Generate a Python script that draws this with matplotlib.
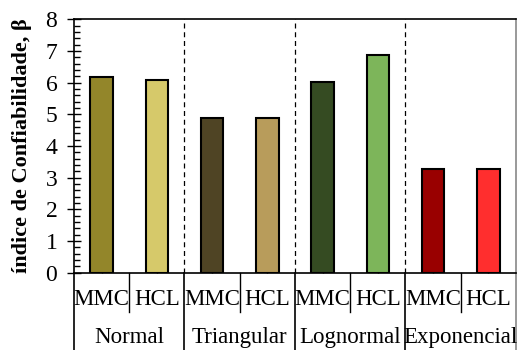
import matplotlib
matplotlib.use("Agg")
import matplotlib.pyplot as plt
import matplotlib.transforms as mtransforms
from matplotlib.ticker import MultipleLocator

plt.rcParams['font.family'] = ['Liberation Serif', 'DejaVu Serif']
plt.rcParams['mathtext.fontset'] = 'stix'

groups = ["Normal", "Triangular", "Lognormal", "Exponencial"]
methods = ["MMC", "HCL"]
mmc_values = [6.19, 4.89, 6.03, 3.27]
hcl_values = [6.07, 4.89, 6.86, 3.28]
mmc_colors = ["#93862a", "#4f4424", "#354b22", "#990000"]
hcl_colors = ["#d6c96a", "#b89c5b", "#7db55a", "#ff2e2e"]

fig = plt.figure(figsize=(5.17, 3.5), dpi=100)
ax = fig.add_axes([0.1431, 0.2209, 0.8549, 0.724])

xs, vals, cols = [], [], []
for i in range(len(groups)):
    xs += [2 * i + 0.5, 2 * i + 1.5]
    vals += [mmc_values[i], hcl_values[i]]
    cols += [mmc_colors[i], hcl_colors[i]]

ax.bar(xs, vals, width=0.41, color=cols, edgecolor='black', linewidth=1.5, zorder=3)

ax.set_xlim(0, 2 * len(groups))
ax.set_ylim(0, 8)
ax.yaxis.set_major_locator(MultipleLocator(1))
ax.yaxis.set_minor_locator(MultipleLocator(0.2))
ax.tick_params(axis='y', which='major', direction='inout', length=10, width=1, labelsize=17, pad=7)
ax.tick_params(axis='y', which='minor', direction='in', length=4, width=1)
ax.set_xticks(xs)
ax.set_xticklabels([])
ax.tick_params(axis='x', which='major', direction='in', length=3, width=1)

for s in ['left', 'bottom', 'top']:
    ax.spines[s].set_color('black')
    ax.spines[s].set_linewidth(1.2)
ax.spines['right'].set_color('#888888')
ax.spines['right'].set_linewidth(1.2)

for b in range(1, len(groups)):
    ax.axvline(2 * b, color='black', linestyle=(0, (4, 3)), linewidth=0.9, zorder=1)

ax.set_ylabel("índice de Confiabilidade, β", fontsize=16, fontweight='bold')
ax.yaxis.set_label_coords(-0.095, 0.5)

trans = mtransforms.blended_transform_factory(ax.transData, ax.transAxes)
for i, g in enumerate(groups):
    for j, m in enumerate(methods):
        ax.text(2 * i + j + 0.5, -0.104, m, transform=trans, ha='center', va='center', fontsize=16.5)
    ax.text(2 * i + 1, -0.255, g, transform=trans, ha='center', va='center', fontsize=16.5)
    ax.plot([2 * i + 1, 2 * i + 1], [0, -0.155], transform=trans, color='black', linewidth=1, clip_on=False)
for b in range(0, len(groups) + 1):
    c = '#888888' if b == len(groups) else 'black'
    ax.plot([2 * b, 2 * b], [0, -0.32], transform=trans, color=c, linewidth=1.2, clip_on=False)

fig.savefig("out.png", dpi=100)
